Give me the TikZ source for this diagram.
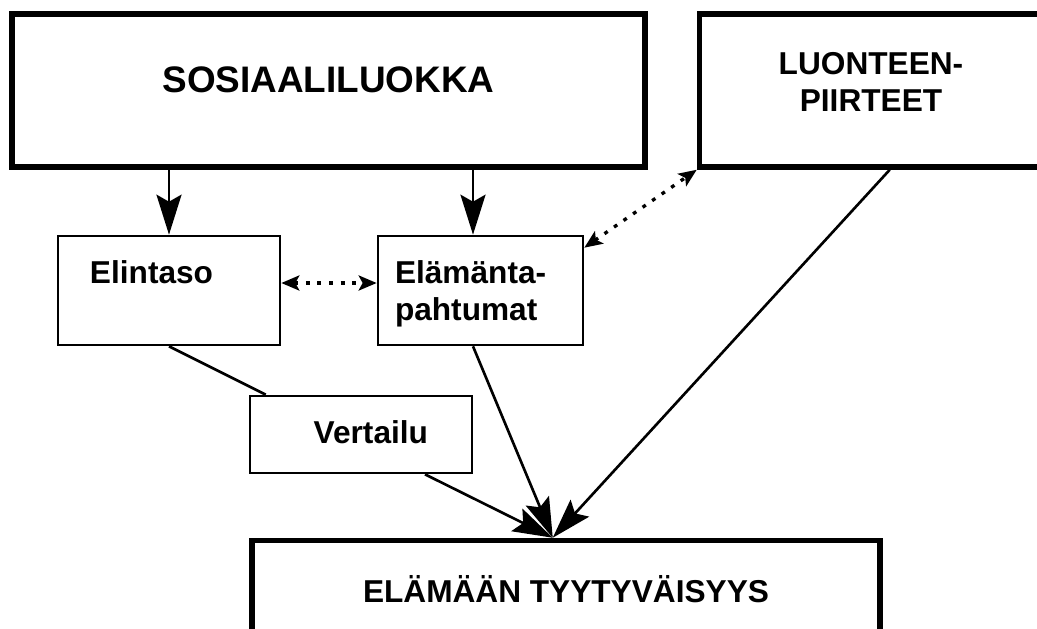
\documentclass[tikz,border=0pt]{standalone}
\usepackage{fontspec}
\setmainfont{Liberation Sans}
\usepackage{tikz}
\usetikzlibrary{arrows.meta}
\usetikzlibrary{positioning}
\tikzstyle{iso}=[
        draw,
        rectangle,
        line width=0.11cm,
        inner ysep=0.1cm,
        font=\bfseries\fontsize{18}{21.6}\selectfont
]
\tikzstyle{pieni}=[rectangle,draw,line width=1.5pt,inner ysep=0.1cm,font=\bfseries\fontsize{18}{21.6}\selectfont]
\tikzstyle{suite}=[-{Stealth[length=0.8cm,width=0.5cm,inset=0.14cm]},line width=1.5pt]
\tikzstyle{viiva}=[line width=1.5pt]
\tikzstyle{pisteet}=[{Stealth[length=0.36cm,width=0.3cm,inset=0.08cm]}-{Stealth[length=0.36cm,width=0.3cm,inset=0.08cm]},line width=1.9pt,dash pattern=on 2.2pt off 4.4pt]
\begin{document}
\begin{tikzpicture}
\useasboundingbox (0,0) rectangle (20.74,-12.58);
\clip (0,0) rectangle (20.74,-12.58);
\node[iso,minimum width=12.66cm,minimum height=3.06cm,text height=0.5cm,text depth=0.44cm,font=\bfseries\fontsize{21}{25}\selectfont] (sosiaali) at (6.57,-1.81) {SOSIAALILUOKKA};
\node[iso,minimum width=6.86cm,minimum height=3.06cm,text width=5cm,align=center,text height=0.4cm,text depth=1.06cm] (luonteen) at (17.42,-1.81) {LUONTEEN-\\PIIRTEET};
\node[pieni,minimum width=4.44cm,minimum height=2.18cm,text width=3.16cm,inner xsep=0.64cm,align=left,text height=0.4cm,text depth=0.7cm] (elintaso) at (3.38,-5.81) {Elintaso};
\node[pieni,minimum width=4.10cm,minimum height=2.18cm,text width=3.42cm,inner xsep=0.34cm,align=left,text height=0.4cm,text depth=0.7cm] (elaman) at (9.61,-5.81) {Elämänta-\\pahtumat};
\node[pieni,minimum width=4.44cm,minimum height=1.54cm,text width=2.68cm,inner xsep=0.88cm,align=right,text height=0.5cm,text depth=0.16cm] (vertailu) at (7.22,-8.69) {Vertailu};
\node[iso,minimum width=12.56cm,minimum height=2.1cm,text height=0.5cm,text depth=0.14cm] (tyytyv) at (11.32,-11.86) {ELÄMÄÄN TYYTYVÄISYYS};
\coordinate (osuma) at ([xshift=6.07cm]tyytyv.north west);
%nuolet
\draw[suite] (sosiaali.south -| elintaso.north) -- (elintaso.north);
\draw[suite] ([xshift=-1.5mm]elaman.north |- sosiaali.south) -- ([xshift=-1.5mm]elaman.north);
\draw[pisteet] ([yshift=1.5mm]elintaso.east) -- ([yshift=1.5mm]elaman.west);
\draw[pisteet] ([yshift=-2.6mm]elaman.north east) -- (luonteen.south west);
\draw[viiva] (elintaso.south) -- ([xshift=3.4mm]vertailu.north west);
\draw[suite] ([xshift=1.28cm]vertailu.south) -- (osuma);
\draw[suite] ([xshift=-1.5mm]elaman.south) -- (osuma);
\draw[suite] ([xshift=3.86cm]luonteen.south west) -- (osuma);
\end{tikzpicture}
\end{document}
